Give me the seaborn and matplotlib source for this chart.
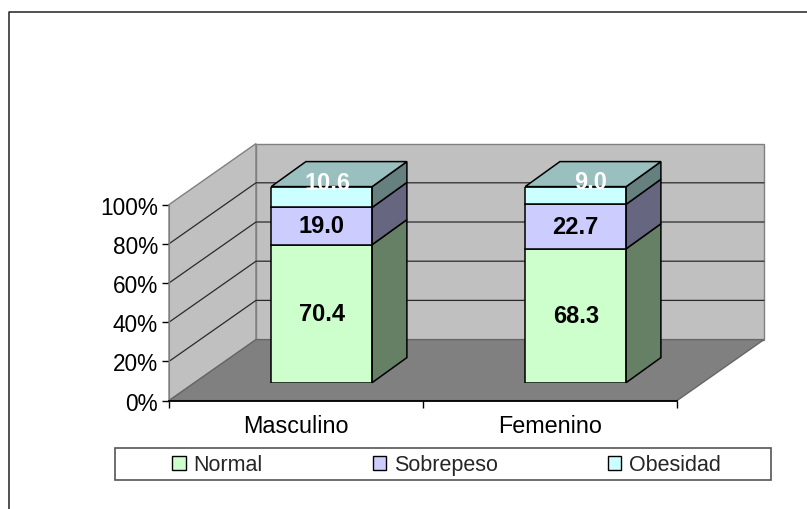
import matplotlib
matplotlib.use("Agg")
import matplotlib.pyplot as plt
import seaborn as sns
from matplotlib.lines import Line2D
from matplotlib.patches import Patch, Rectangle
from matplotlib.ticker import PercentFormatter

# --- DATA ---
CATEGORIES = ["Masculino", "Femenino"]
SERIES = ["Normal", "Sobrepeso", "Obesidad"]
NORMAL = [70.4, 68.3]
SOBREPESO = [19.0, 22.7]
OBESIDAD = [10.6, 9.0]
Y_TICKS = [0, 20, 40, 60, 80, 100]

# --- STYLE ---
COLORS = ["#CCFFCC", "#CCCCFF", "#CCFFFF"]
SIDE_COLORS = ["#668066", "#666680", "#668080"]
TOP_COLOR = "#99BFBF"
LABEL_COLORS = ["black", "black", "white"]
WALL = "#C0C0C0"
FLOOR = "#808080"
W, H = 807, 510

# depth of the fake 3D box, px
WALL_DX, WALL_DY = 87, 61
BAR_DX, BAR_DY = 34.7, 25
PX_X = 254.0   # px per category
PX_Y = 1.96    # px per percent


def px_axes(fig, left, top, right, bottom):
    return fig.add_axes([left / W, 1 - bottom / H, (right - left) / W, (bottom - top) / H])


sns.set_style("white")
plt.rcParams["font.family"] = ["Liberation Sans", "DejaVu Sans"]

fig = plt.figure(figsize=(W / 100, H / 100), dpi=100)

# Box: walls, floor, grid
ax = px_axes(fig, 169, 205.6, 677, 401.6)
ax.set_xlim(-0.5, 1.5)
ax.set_ylim(0, 100)
ax.patch.set_visible(False)
dx, dy = WALL_DX / PX_X, WALL_DY / PX_Y

ax.fill([-0.5, -0.5 + dx, -0.5 + dx, -0.5], [0, dy, 100 + dy, 100], color=WALL, ec=FLOOR, lw=1, clip_on=False, zorder=1)
ax.fill([-0.5 + dx, 1.5 + dx, 1.5 + dx, -0.5 + dx], [dy, dy, 100 + dy, 100 + dy], color=WALL, ec=FLOOR, lw=1, clip_on=False, zorder=1)
ax.fill([-0.5, 1.5, 1.5 + dx, -0.5 + dx], [0, 0, dy, dy], color=FLOOR, ec="#666666", lw=1, clip_on=False, zorder=1)
for v in Y_TICKS[1:-1]:
    ax.plot([-0.5, -0.5 + dx, 1.5 + dx], [v, v + dy, v + dy], color="#2a2a2a", lw=0.9, clip_on=False, zorder=2)

sns.despine(ax=ax, top=True, right=True)
ax.spines["left"].set_color(FLOOR)
ax.spines["bottom"].set_color("black")
ax.spines["bottom"].set_linewidth(1.3)
ax.set_yticks(Y_TICKS)
ax.yaxis.set_major_formatter(PercentFormatter(xmax=100, decimals=0))
ax.set_xticks([0, 1], CATEGORIES)
ax.set_xticks([-0.5, 0.5, 1.5], minor=True)
ax.tick_params(axis="y", left=True, length=5, width=1, color="black", labelsize=16.3, pad=3, labelcolor="black")
ax.tick_params(axis="x", which="major", bottom=False, labelsize=16.8, pad=6, labelcolor="black")
ax.tick_params(axis="x", which="minor", bottom=True, length=5, width=1, color="black")

# Bars sit a bit into the box, so they get their own shifted axes
bx = px_axes(fig, 169 + 25.7, 205.6 - 18, 677 + 25.7, 401.6 - 18)
bx.patch.set_visible(False)
bx.axis("off")

BAR_WIDTH = 101 / PX_X
bdx, bdy = BAR_DX / PX_X, BAR_DY / PX_Y
bottoms = [0.0, 0.0]
LABEL_SHIFTS = [[(0, 0), (0, 0)], [(0, 0), (0, 0)], [(6, 14), (15, 14)]]

for s, values in enumerate([NORMAL, SOBREPESO, OBESIDAD]):
    sns.barplot(
        x=CATEGORIES, y=values, bottom=bottoms, color=COLORS[s], saturation=1,
        width=BAR_WIDTH, edgecolor="black", linewidth=1.1, ax=bx, zorder=3,
    )
    for i, v in enumerate(values):
        x1 = i + BAR_WIDTH / 2
        y0, y1 = bottoms[i], bottoms[i] + v
        bx.fill([x1, x1 + bdx, x1 + bdx, x1], [y0, y0 + bdy, y1 + bdy, y1], fc=SIDE_COLORS[s], ec="black", lw=1.1, clip_on=False, zorder=3)
        if s == len(SERIES) - 1:
            x0 = i - BAR_WIDTH / 2
            bx.fill([x0, x1, x1 + bdx, x0 + bdx], [y1, y1, y1 + bdy, y1 + bdy], fc=TOP_COLOR, ec="black", lw=1.1, clip_on=False, zorder=3)
        bx.annotate(
            f"{v:.1f}", (i, (y0 + y1) / 2), xytext=(LABEL_SHIFTS[s][i][0] * 0.72, LABEL_SHIFTS[s][i][1] * 0.72),
            textcoords="offset points", ha="center", va="center", fontsize=17, fontweight="bold",
            color=LABEL_COLORS[s], zorder=5, annotation_clip=False,
        )
    bottoms = [b + v for b, v in zip(bottoms, values)]

bx.set_xlim(-0.5, 1.5)
bx.set_ylim(0, 100)

# Legend
fig.add_artist(Rectangle((114.7 / W, 1 - 481 / H), 656 / W, 32 / H, transform=fig.transFigure, fc="white", ec="#555555", lw=1.2))
handles = [Patch(fc=c, ec="black", lw=1) for c in COLORS]
fig.legend(
    handles, SERIES, ncol=3, frameon=False, loc="center", bbox_to_anchor=(446.5 / W, 1 - 466 / H),
    fontsize=15.5, handlelength=0.62, handleheight=0.62, handletextpad=0.37, columnspacing=5.1,
    borderpad=0, borderaxespad=0,
)

# Chart area border, cropped at right and bottom
fig.add_artist(Line2D([8.5 / W, 8.5 / W, 1], [0, 1 - 12.5 / H, 1 - 12.5 / H], transform=fig.transFigure, color="#222222", lw=1.1))

fig.savefig("out.png", dpi=100)
